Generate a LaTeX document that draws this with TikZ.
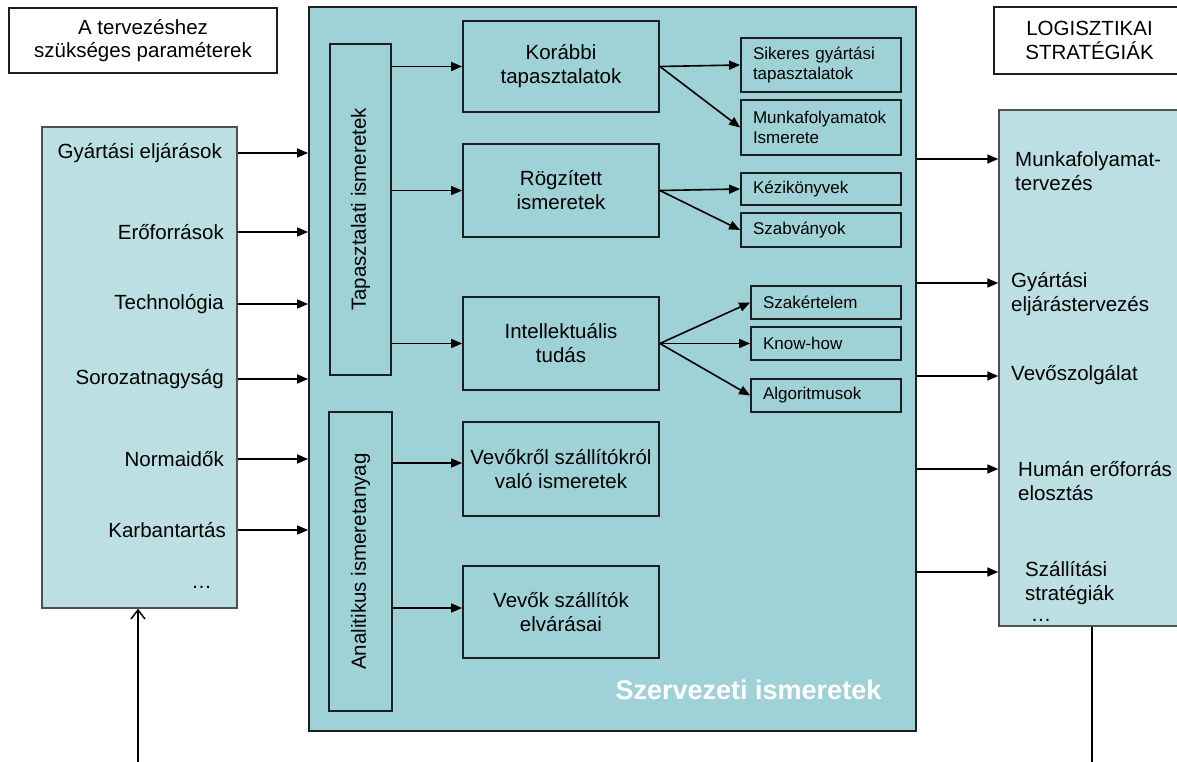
\documentclass[tikz,border=0pt]{standalone}
\usepackage{fontspec}
\setmainfont{Liberation Sans}
\usetikzlibrary{arrows.meta}

\definecolor{panel}{HTML}{9FD2D6}
\definecolor{side}{HTML}{BCDFE3}
\definecolor{rim}{HTML}{1E1E1E}
\definecolor{siderim}{HTML}{505050}

\tikzset{
  big/.style={font=\fontsize{20.5}{24}\selectfont},
  small/.style={font=\fontsize{17}{20}\selectfont},
  box/.style={draw=rim, line width=1.8pt, fill=panel, inner sep=0pt, align=center, big},
  leaf/.style={draw=rim, line width=1.8pt, fill=panel, inner xsep=12pt, inner ysep=0pt, align=left, small},
  sidebox/.style={draw=siderim, line width=1.5pt, fill=side, inner sep=0pt},
  caption/.style={draw=rim, line width=1.8pt, fill=white, inner sep=0pt, align=center,
                  font=\fontsize{20.5}{23.5}\selectfont},
  item/.style={inner sep=0pt, align=left, big},
  arr/.style={line width=1.6pt, -{Triangle[length=11pt,width=9pt]}},
}

\begin{document}
\begin{tikzpicture}[x=1pt,y=-1pt]
\useasboundingbox (0,0) rectangle (1177,762);

% headings
\node[caption, minimum width=268, minimum height=65] (TL) at (143,40.5)
  {A tervezéshez\\szükséges paraméterek};
\node[caption, minimum width=191, minimum height=67] (TR) at (1089.5,40.5)
  {LOGISZTIKAI\\STRATÉGIÁK};

% input parameters
\node[sidebox, minimum width=195, minimum height=481] (L) at (139.5,367.5) {};
\node[item, anchor=east] (l1) at (222,153) {Gyártási eljárások};
\node[item, anchor=east] (l2) at (224,232) {Erőforrások};
\node[item, anchor=east] (l3) at (224,304) {Technológia};
\node[item, anchor=east] (l4) at (224,379) {Sorozatnagyság};
\node[item, anchor=east] (l5) at (224,459) {Normaidők};
\node[item, anchor=east] (l6) at (226,530) {Karbantartás};
\node[item, anchor=east] (l7) at (212,587) {…};

% organisational knowledge
\node[box, minimum width=607, minimum height=724] (O) at (612.5,369) {};
\node[font=\fontsize{27}{30}\selectfont\bfseries, text=white, inner sep=0pt] (title)
  at (748.5,690) {Szervezeti ismeretek};

\node[box, minimum width=61, minimum height=331] (T) at (360.5,209.5) {};
\node[big, rotate=90, inner sep=0pt] (Tt) at (T) {Tapasztalati ismeretek};
\node[box, minimum width=63, minimum height=299] (A) at (360.5,561.5) {};
\node[big, rotate=90, inner sep=0pt] (At) at (A) {Analitikus ismeretanyag};

\node[box, minimum width=196, minimum height=91] (K) at (561,66.5) {Korábbi\\tapasztalatok};
\node[box, minimum width=196, minimum height=93] (G) at (561,190.5) {Rögzített\\ismeretek};
\node[box, minimum width=196, minimum height=93] (I) at (561,343.5) {Intellektuális\\tudás};
\node[box, minimum width=196, minimum height=94] (V1) at (561,469) {Vevőkről szállítókról\\való ismeretek};
\node[box, minimum width=196, minimum height=92] (V2) at (561,612) {Vevők szállítók\\elvárásai};

\node[leaf, text width=136, minimum height=54] (S1) at (821,65) {Sikeres gyártási\\tapasztalatok};
\node[leaf, text width=136, minimum height=55] (S2) at (821,127.5) {Munkafolyamatok\\Ismerete};
\node[leaf, text width=136, minimum height=32] (S3) at (821,189) {Kézikönyvek};
\node[leaf, text width=136, minimum height=34] (S4) at (821,230) {Szabványok};
\node[leaf, text width=126, minimum height=33] (S5) at (826,302.5) {Szakértelem};
\node[leaf, text width=126, minimum height=33] (S6) at (826,343.5) {Know-how};
\node[leaf, text width=126, minimum height=33] (S7) at (826,395.5) {Algoritmusok};

% logistic strategies
\node[sidebox, minimum width=186, minimum height=516] (R) at (1092,368) {};
\node[item, anchor=west] (r1) at (1015,171.5) {Munkafolyamat-\\tervezés};
\node[item, anchor=west] (r2) at (1011,294.5) {Gyártási\\eljárástervezés};
\node[item, anchor=west] (r3) at (1011,375) {Vevőszolgálat};
\node[item, anchor=west] (r4) at (1018,481) {Humán erőforrás\\elosztás};
\node[item, anchor=west] (r5) at (1025,583) {Szállítási\\stratégiák};
\node[item] (r6) at (1041,620) {…};

\coordinate (a1) at (1000,159);
\coordinate (a2) at (1000,283);
\coordinate (a3) at (1000,376);
\coordinate (a4) at (1000,469);
\coordinate (a5) at (1000,572);

% parameters into the organisation
\foreach \n in {l1,l2,l3,l4,l5,l6}
  \draw[arr] (\n -| L.east) -- (\n -| O.west);

% experience branch
\draw[arr] (K.west -| T.east) -- (K.west);
\draw[arr] (G.west -| T.east) -- (G.west);
\draw[arr] (I.west -| T.east) -- (I.west);
\draw[arr] (K.east) -- (S1.west);
\draw[arr] (K.east) -- (S2.west);
\draw[arr] (G.east) -- (S3.west);
\draw[arr] (G.east) -- (S4.west);
\draw[arr] (I.east) -- (S5.west);
\draw[arr] (I.east) -- (S6.west);
\draw[arr] (I.east) -- (S7.west);

% analytic branch
\coordinate (v1in) at ([yshift=6pt]V1.west);
\coordinate (v2in) at ([yshift=4pt]V2.west);
\draw[arr] (v1in -| A.east) -- (v1in);
\draw[arr] (v2in -| A.east) -- (v2in);

% organisation into strategies
\foreach \c in {a1,a2,a3,a4,a5}
  \draw[arr] (\c -| O.east) -- (\c -| R.west);

% external flows
\coordinate (inflow) at (138,762);
\draw[line width=1.5pt, -{Straight Barb[length=9pt,width=14pt]}] (inflow) -- (inflow |- L.south);
\coordinate (outflow) at (1092,762);
\draw[line width=1.5pt] (R.south) -- (outflow);
\end{tikzpicture}
\end{document}
